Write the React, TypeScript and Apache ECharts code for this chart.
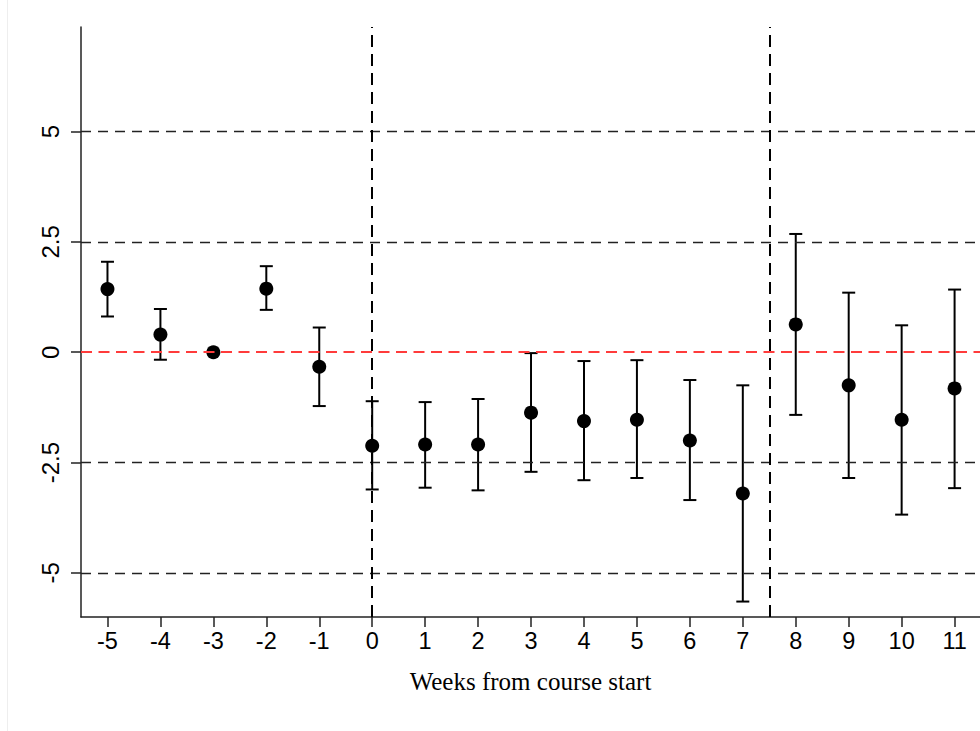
import React, { useEffect, useRef } from "react";
import * as echarts from "echarts";

const weeks = [-5, -4, -3, -2, -1, 0, 1, 2, 3, 4, 5, 6, 7, 8, 9, 10, 11];
const estimates = [1.43, 0.4, 0, 1.44, -0.33, -2.12, -2.09, -2.09, -1.37, -1.56, -1.53, -2.0, -3.2, 0.63, -0.75, -1.53, -0.82];
const upper = [2.05, 0.98, null, 1.95, 0.56, -1.11, -1.13, -1.06, -0.02, -0.2, -0.18, -0.63, -0.75, 2.68, 1.35, 0.61, 1.42];
const lower = [0.81, -0.17, null, 0.96, -1.22, -3.11, -3.07, -3.13, -2.71, -2.9, -2.85, -3.35, -5.65, -1.42, -2.85, -3.68, -3.08];
const yTicks = [-5, -2.5, 0, 2.5, 5];
const refLinesY = [-5, -2.5, 2.5, 5];
const zeroLine = 0;
const periodBreaks = [0, 7.5];
const xTitle = "Weeks from course start";

export default function App() {
  const ref = useRef<HTMLDivElement>(null);
  useEffect(() => {
    if (!ref.current) return;
    const chart = echarts.init(ref.current, null, { renderer: "svg" });
    const points = weeks.map((w, i) => [w, estimates[i]]);
    const bars = weeks
      .map((w, i) => [w, lower[i], upper[i]])
      .filter((d) => d[1] !== null && d[2] !== null);
    chart.setOption({
      animation: false,
      backgroundColor: "#fff",
      grid: { left: 81, right: 0, top: 27, bottom: 114 },
      graphic: [
        {
          type: "line",
          shape: { x1: 7.5, y1: 0, x2: 7.5, y2: 731 },
          style: { stroke: "#eeeeee", lineWidth: 1 },
          silent: true,
        },
      ],
      xAxis: {
        type: "value",
        min: -5.5,
        max: 11.48,
        name: xTitle,
        nameLocation: "middle",
        nameGap: 52,
        nameTextStyle: { fontFamily: "Liberation Serif", fontSize: 25, color: "#000" },
        axisLine: { show: true, onZero: false, lineStyle: { color: "#222", width: 1.5 } },
        axisTick: { show: true, length: 10, customValues: weeks, lineStyle: { color: "#222", width: 1.5 } },
        axisLabel: {
          customValues: weeks,
          margin: 12,
          fontFamily: "Liberation Sans",
          fontSize: 23.5,
          color: "#000",
        },
        splitLine: { show: false },
      },
      yAxis: {
        type: "value",
        min: -6,
        max: 7.37,
        axisLine: { show: true, onZero: false, lineStyle: { color: "#222", width: 1.5 } },
        axisTick: { show: true, length: 10, customValues: yTicks, lineStyle: { color: "#222", width: 1.5 } },
        axisLabel: {
          customValues: yTicks,
          rotate: 90,
          margin: 19,
          fontFamily: "Liberation Sans",
          fontSize: 24,
          color: "#000",
        },
        splitLine: { show: false },
      },
      series: [
        {
          type: "line",
          data: [],
          silent: true,
          z: 1,
          markLine: {
            silent: true,
            symbol: "none",
            label: { show: false },
            data: [
              ...refLinesY.map((v) => ({
                yAxis: v,
                lineStyle: { color: "#222", width: 1.3, type: [10, 7] },
              })),
              {
                yAxis: zeroLine,
                lineStyle: { color: "#ff3b3b", width: 2, type: [11, 6.5] },
              },
            ],
          },
        },
        {
          type: "line",
          data: [],
          silent: true,
          z: 2,
          markLine: {
            silent: true,
            symbol: "none",
            label: { show: false },
            data: periodBreaks.map((v) => ({
              xAxis: v,
              lineStyle: { color: "#000", width: 2, type: [12, 7] },
            })),
          },
        },
        {
          type: "custom",
          z: 3,
          silent: true,
          data: bars,
          renderItem: (params: any, api: any) => {
            const x = api.value(0);
            const lo = api.coord([x, api.value(1)]);
            const hi = api.coord([x, api.value(2)]);
            const hw = 6.5;
            const style = { stroke: "#000", lineWidth: 2 };
            return {
              type: "group",
              children: [
                { type: "line", shape: { x1: lo[0], y1: lo[1], x2: hi[0], y2: hi[1] }, style },
                { type: "line", shape: { x1: hi[0] - hw, y1: hi[1], x2: hi[0] + hw, y2: hi[1] }, style },
                { type: "line", shape: { x1: lo[0] - hw, y1: lo[1], x2: lo[0] + hw, y2: lo[1] }, style },
              ],
            };
          },
        },
        {
          type: "scatter",
          z: 4,
          silent: true,
          data: points,
          symbol: "circle",
          symbolSize: 14,
          itemStyle: { color: "#000", opacity: 1 },
        },
      ],
    });
    return () => chart.dispose();
  }, []);
  return (
    <div
      ref={ref}
      style={{ position: "absolute", left: 0, top: 0, width: 980, height: 731 }}
    />
  );
}
